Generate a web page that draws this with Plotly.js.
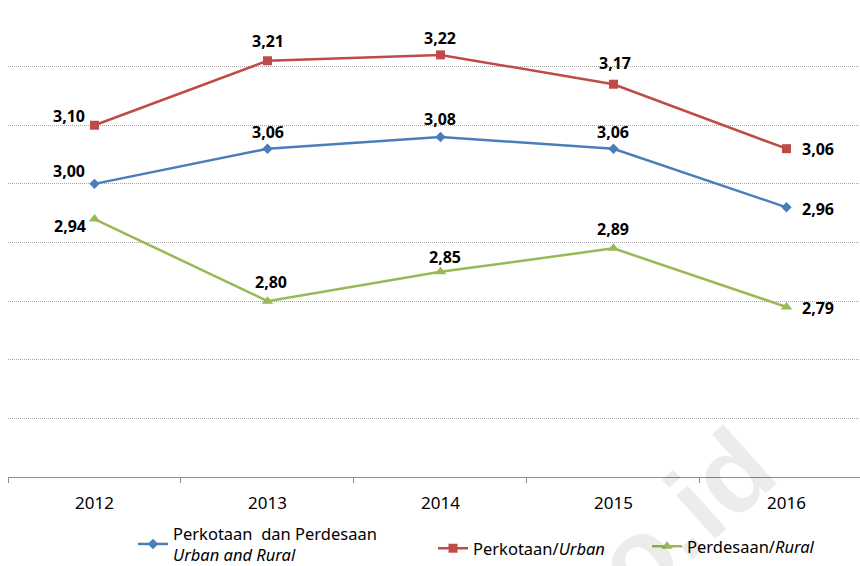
<!DOCTYPE html>
<html>
<head>
<meta charset="utf-8">
<script src="https://cdn.plot.ly/plotly-3.0.1.min.js"></script>
<style>html,body{margin:0;padding:0;background:#fff;}#chart{width:860px;height:566px;}</style>
</head>
<body>
<div id="chart"></div>
<script>
const years = ['2012', '2013', '2014', '2015', '2016'];
const urbanRural = [3.00, 3.06, 3.08, 3.06, 2.96];
const urban = [3.10, 3.21, 3.22, 3.17, 3.06];
const rural = [2.94, 2.80, 2.85, 2.89, 2.79];
const seriesNames = [
  'Perkotaan  dan Perdesaan<br><i>Urban and Rural</i>',
  'Perkotaan/<i>Urban</i>',
  'Perdesaan/<i>Rural</i>'
];

// label offsets in pixels [dx, dy(up)] — styling only
const shiftsUrbanRural = [[-26, 13], [1, 17], [0, 18], [0, 17], [32, -1.5]];
const shiftsUrban = [[-26, 9], [1, 20], [0, 16.5], [2, 21], [32, 0]];
const shiftsRural = [[-25, -7], [4, 19.5], [5, 15], [0, 19], [32, -1]];

const traces = [
  {
    x: years, y: urbanRural, name: seriesNames[0], type: 'scatter', mode: 'lines+markers',
    line: {color: '#4A7EBB', width: 2.5},
    marker: {symbol: 'diamond', size: 8, color: '#4A7EBB'},
    cliponaxis: false, legend: 'legend'
  },
  {
    x: years, y: urban, name: seriesNames[1], type: 'scatter', mode: 'lines+markers',
    line: {color: '#BE4B48', width: 2.5},
    marker: {symbol: 'square', size: 9, color: '#BE4B48'},
    cliponaxis: false, legend: 'legend2'
  },
  {
    x: years, y: rural, name: seriesNames[2], type: 'scatter', mode: 'lines+markers',
    line: {color: '#98B954', width: 2.5},
    marker: {symbol: 'triangle-up', size: 10, color: '#98B954'},
    cliponaxis: false, legend: 'legend3'
  }
];

const labelFont = {family: 'Noto Sans, sans-serif', size: 16, color: '#000', weight: 'bold'};
function labels(values, shifts) {
  return values.map((v, i) => ({
    x: i, y: v, xref: 'x', yref: 'y',
    text: v.toFixed(2).replace('.', ','),
    showarrow: false, xanchor: 'center', yanchor: 'middle',
    xshift: shifts[i][0], yshift: shifts[i][1],
    font: labelFont
  }));
}

const watermark = {
  text: 'bps.go.id', xref: 'paper', yref: 'paper', x: 0.665, y: -0.29,
  xanchor: 'center', yanchor: 'middle',
  showarrow: false, textangle: -42,
  font: {family: 'Liberation Sans, sans-serif', size: 110, weight: 'bold', color: 'rgba(0,0,0,0.075)'}
};

const legendFont = {family: 'Noto Sans, sans-serif', size: 16.5, color: '#000'};
const layout = {
  width: 860, height: 566,
  margin: {l: 8, r: 0, t: 8, b: 89, autoexpand: false},
  paper_bgcolor: '#fff', plot_bgcolor: '#fff',
  showlegend: true,
  xaxis: {
    type: 'category', range: [-0.5, 4.425], automargin: false,
    showgrid: false, zeroline: false,
    showline: true, linecolor: '#8c8c8c', linewidth: 1.3,
    ticks: 'outside', tickson: 'boundaries', ticklen: 5, tickcolor: '#8c8c8c', tickwidth: 1,
    tickangle: 0, ticklabelstandoff: 10,
    tickfont: {family: 'Noto Sans, sans-serif', size: 17, color: '#000'}
  },
  yaxis: {
    range: [2.5, 3.3], dtick: 0.1, tick0: 2.5, automargin: false,
    showticklabels: false, zeroline: false, showline: false,
    showgrid: true, gridcolor: '#a8a8a8', griddash: '1px,1px', gridwidth: 1
  },
  legend: {x: (133 - 8) / 852, y: (477 - 516) / 469, xanchor: 'left', yanchor: 'top', font: legendFont, bgcolor: 'rgba(0,0,0,0)'},
  legend2: {x: (433 - 8) / 852, y: (477 - 531) / 469, xanchor: 'left', yanchor: 'top', font: legendFont, bgcolor: 'rgba(0,0,0,0)'},
  legend3: {x: (647 - 8) / 852, y: (477 - 529) / 469, xanchor: 'left', yanchor: 'top', font: legendFont, bgcolor: 'rgba(0,0,0,0)'},
  annotations: [watermark]
    .concat(labels(urbanRural, shiftsUrbanRural))
    .concat(labels(urban, shiftsUrban))
    .concat(labels(rural, shiftsRural))
};

Plotly.newPlot('chart', traces, layout, {displayModeBar: false, staticPlot: true});
</script>
</body>
</html>
